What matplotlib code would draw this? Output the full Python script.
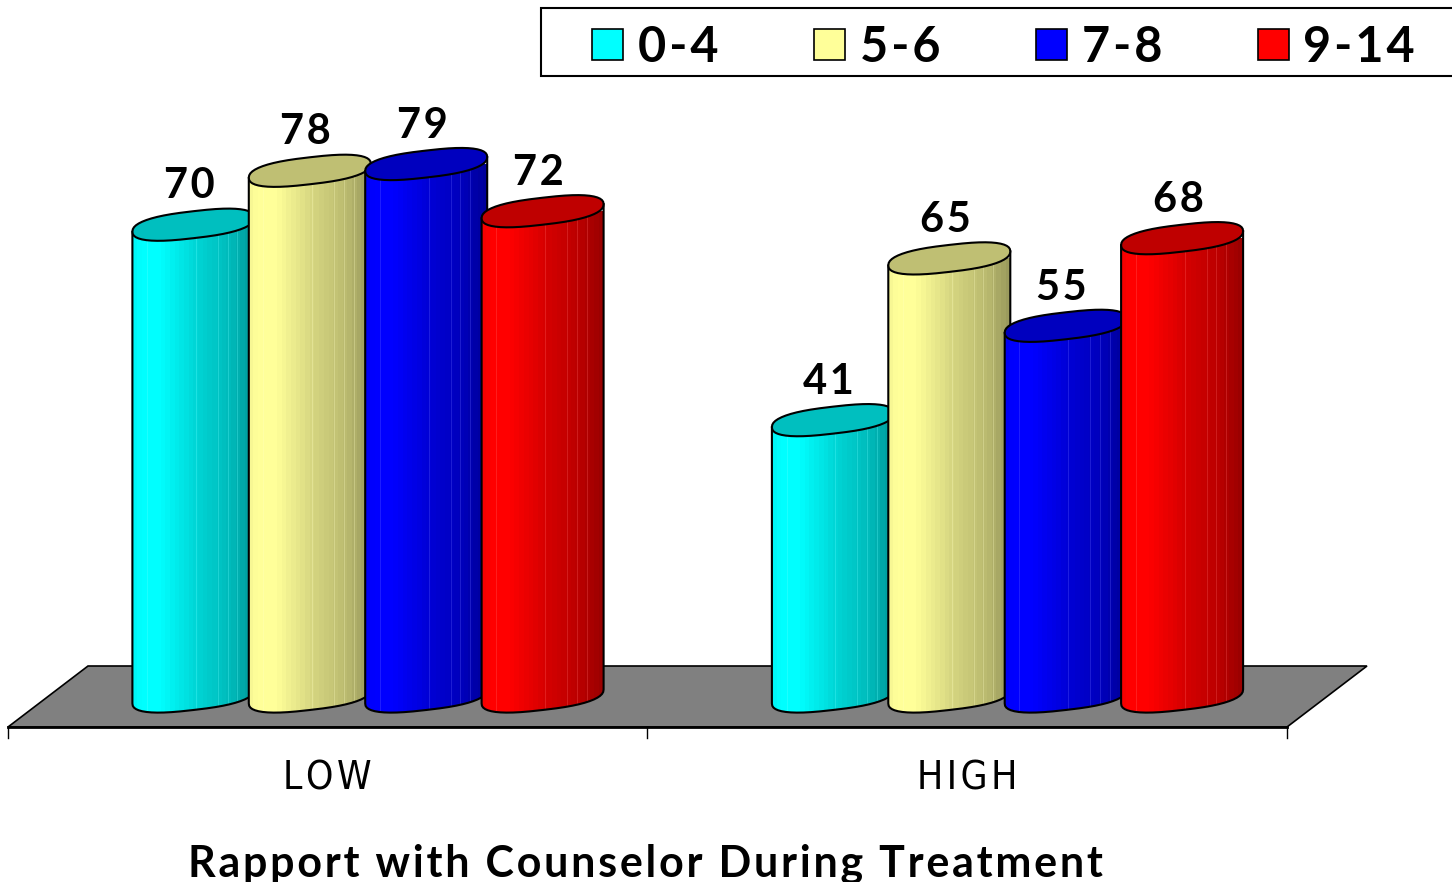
import numpy as np
import matplotlib
matplotlib.use('Agg')
import matplotlib.pyplot as plt
from matplotlib.patches import Polygon, Rectangle

groups = ['LOW', 'HIGH']
series = ['0-4', '5-6', '7-8', '9-14']
low_vals = [70, 78, 79, 72]
high_vals = [41, 65, 55, 68]
colors = [(0, 1, 1), (1, 1, 0.6), (0, 0, 1), (1, 0, 0)]

W, H = 1452, 882
SP = '\u200a'
FONT = ['Lato', 'DejaVu Sans']

def spaced(s):
    return SP.join(s)

fig = plt.figure(figsize=(W / 100, H / 100), dpi=100)

# pixel layer for floor, legend and texts
bg = fig.add_axes([0, 0, 1, 1])
bg.set_xlim(0, W)
bg.set_ylim(H, 0)
bg.axis('off')

bg.add_patch(Polygon([(8, 727), (1287, 727), (1367, 666), (88, 666)], closed=True,
                     facecolor='#808080', edgecolor='black', lw=1.2))
bg.plot([8, 1287], [727, 727], color='black', lw=2)
for tx in [8, 647, 1287]:
    bg.plot([tx, tx], [727, 738], color='black', lw=1)

# bars: x in category units, y in chart values
ax = fig.add_axes([0, 0, 1, 1])
ax.patch.set_alpha(0)
ax.axis('off')
unit = 639.5
ax.set_xlim(-327.5 / unit, (W - 327.5) / unit)
ky = 6.74
ax.set_ylim((696.5 - H) / ky, 696.5 / ky)

bar_w = 122 / unit
pitch = 116.4 / unit
shift = 40.5 / unit
a = bar_w / 2
shear = 7.0 / ky
b = 13.5 / ky

knots = [0, 0.05, 0.2, 0.5, 0.8, 1]
shade = [0.97, 1.0, 1.0, 0.84, 0.72, 0.58]
edges = np.linspace(0, 1, 27)
light_lines = [0.12, 0.52, 0.7, 0.78, 0.86]


def ring(cx, cy, t):
    # slightly squared ellipse, sheared up to the right
    c = np.sign(np.cos(t)) * np.abs(np.cos(t)) ** 0.75
    s = np.sign(np.sin(t)) * np.abs(np.sin(t)) ** 0.85
    return cx + a * c, cy + shear * c - b * s


def cylinder(cx, val, col, z):
    left = cx - a
    t_low = np.linspace(0, np.pi, 25)
    bx, by = ring(cx, 0, t_low)
    tx, ty = ring(cx, val, np.array([np.pi, 0]))
    body = np.column_stack([np.r_[tx[0], bx[::-1], tx[1]], np.r_[ty[0], by[::-1], ty[1]]])
    clip = Polygon(body, closed=True, transform=ax.transData)
    for f in edges[:-1]:
        m = np.interp(f, knots, shade)
        c = tuple(np.array(col) * m)
        rects = ax.bar(left + f * bar_w, val + 5, width=(1 - f) * bar_w, bottom=-5,
                       align='edge', color=c, linewidth=0, zorder=z)
        rects[0].set_clip_path(clip)
    for f in light_lines:
        c = tuple(np.array(col) * 0.6 + 0.4)
        ln, = ax.plot([left + f * bar_w] * 2, [-5, val], color=c, lw=0.6, alpha=0.35, zorder=z + 0.1)
        ln.set_clip_path(clip)
    ax.add_patch(Polygon(body, closed=True, facecolor='none', edgecolor='black', lw=1.5, zorder=z + 0.2))
    t_all = np.linspace(0, 2 * np.pi, 49)[:-1]
    cx_, cy_ = ring(cx, val, t_all)
    ax.add_patch(Polygon(np.column_stack([cx_, cy_]), closed=True, facecolor=tuple(np.array(col) * 0.75),
                         edgecolor='black', lw=1.5, zorder=z + 0.3))
    ax.text(cx - 4 / unit, val + 3.9, spaced(str(val)), ha='center', va='baseline', fontsize=30,
            fontweight='bold', family=FONT, zorder=50)


z = 1
for g, vals in enumerate([low_vals, high_vals]):
    for i, v in enumerate(vals):
        cylinder(g + shift + (i - 1.5) * pitch, v, colors[i], z)
        z += 1

# category labels
for g, name in enumerate(groups):
    bg.text(327.5 + g * unit, 789, spaced(name), ha='center', va='baseline', fontsize=28,
            family='DejaVu Sans', stretch='condensed')

# axis title
bg.text(645, 876, spaced('Rapport with Counselor During Treatment'), ha='center', va='baseline',
        fontsize=31, fontweight='bold', family=FONT)

# legend
bg.add_patch(Rectangle((541, 8), 940, 68, facecolor='white', edgecolor='black', lw=1.5))
for sx, tx, col, name in zip([592, 814, 1036, 1258], [638, 860, 1082, 1303], colors, series):
    bg.add_patch(Rectangle((sx, 29), 31, 31, facecolor=col, edgecolor='black', lw=1.2))
    bg.text(tx, 62, spaced(name), ha='left', va='baseline', fontsize=35, fontweight='bold', family=FONT)

fig.savefig('out.png', dpi=100)
